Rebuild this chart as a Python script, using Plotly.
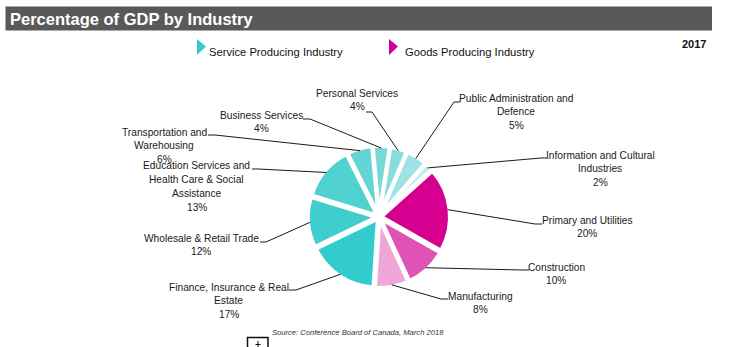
import math
import plotly.graph_objects as go

W, H = 729, 347

# ---- data -------------------------------------------------------------
industries = [
    "Personal Services",
    "Public Administration and Defence",
    "Information and Cultural Industries",
    "Primary and Utilities",
    "Construction",
    "Manufacturing",
    "Finance, Insurance & Real Estate",
    "Wholesale & Retail Trade",
    "Education Services and Health Care & Social Assistance",
    "Transportation and Warehousing",
    "Business Services",
]
shares = [4, 5, 2, 20, 10, 8, 17, 12, 13, 6, 4]
sectors = ["Service", "Service", "Service", "Goods", "Goods", "Goods",
           "Service", "Service", "Service", "Service", "Service"]
label_lines = [
    ["Personal Services"],
    ["Public Administration and", "Defence"],
    ["Information and Cultural", "Industries"],
    ["Primary and Utilities"],
    ["Construction"],
    ["Manufacturing"],
    ["Finance, Insurance & Real", "Estate"],
    ["Wholesale & Retail Trade"],
    ["Education Services and", "Health Care & Social", "Assistance"],
    ["Transportation and", "Warehousing"],
    ["Business Services"],
]
slice_colors = ["#88DCDC", "#9FE2E3", "#C3ECEE", "#D5008F", "#DF52B6", "#EFA7DA",
                "#33CCCC", "#40CDCE", "#52D1D1", "#64D4D4", "#77D8D8"]
legend_items = ["Service Producing Industry", "Goods Producing Industry"]
legend_colors = ["#33CCCC", "#CC0099"]
title_text = "Percentage of GDP by Industry"
year_text = "2017"
source_text = "Source: Conference Board of Canada, March 2018"

# ---- layout helpers (pixel -> paper) -----------------------------------
def px(x):
    return x / W


def py(y):
    return 1 - y / H


SANS = "Liberation Sans, Arial, sans-serif"

# pie placement
cx, cy, half = 379, 217, 71
rotation = 9
pull = 0.03

fig = go.Figure()
fig.add_trace(go.Pie(
    labels=industries,
    values=shares,
    sort=False,
    direction="clockwise",
    rotation=rotation,
    pull=[pull] * len(shares),
    marker=dict(colors=slice_colors, line=dict(color="white", width=4)),
    textinfo="none",
    hoverinfo="label+percent",
    showlegend=False,
    domain=dict(x=[px(cx - half), px(cx + half)], y=[py(cy + half), py(cy - half)]),
))

shapes = []
annotations = []

# title bar
shapes.append(dict(type="rect", xref="paper", yref="paper",
                   x0=px(5.5), x1=px(712), y0=py(30.5), y1=py(6.5),
                   fillcolor="#595959", line=dict(width=0), layer="below"))
annotations.append(dict(text=title_text, x=px(8), y=py(18.5), xref="paper", yref="paper",
                        xanchor="left", yanchor="middle", showarrow=False,
                        font=dict(family=SANS, size=16.5, color="white", weight="bold")))
annotations.append(dict(text=year_text, x=px(708), y=py(44), xref="paper", yref="paper",
                        xanchor="right", yanchor="middle", showarrow=False,
                        font=dict(family=SANS, size=11, color="#111111", weight="bold")))

# legend: right-pointing triangles + text
legend_pos = [(197, 207), (389, 403)]
for name, col, (tx, lx) in zip(legend_items, legend_colors, legend_pos):
    path = "M {} {} L {} {} L {} {} Z".format(px(tx), py(39), px(tx + 9), py(46.5), px(tx), py(55))
    shapes.append(dict(type="path", xref="paper", yref="paper", path=path,
                       fillcolor=col, line=dict(width=0)))
    annotations.append(dict(text=name, x=px(lx), y=py(52), xref="paper", yref="paper",
                            xanchor="left", yanchor="middle", showarrow=False,
                            font=dict(family=SANS, size=11.2, color="#111111")))

# label placement: centre x, first-line y, leader tick (x_from, x_to, y)
label_place = [
    (357, 93, (366, 372, 112)),
    (516, 98, (460, 454, 102)),
    (600, 155, (547, 541, 158)),
    (587, 220, (542, 535, 224)),
    (556, 267, (529, 522, 270)),
    (480, 296, (448, 441, 299)),
    (229, 287, (289, 296, 290)),
    (201, 238, (260, 266, 242)),
    (197, 166, (252, 258, 169)),
    (164, 132, (208, 215, 135)),
    (261, 115, (303, 310, 119)),
]
line_step = 13.8
edge_r = 69

total = float(sum(shares))
start = rotation
for name_lines, val, (lx, ly, (t0, t1, ty)) in zip(label_lines, shares, label_place):
    span = val / total * 360.0
    mid = math.radians(start + span / 2)
    start += span
    ex = cx + edge_r * math.sin(mid)
    ey = cy - edge_r * math.cos(mid)
    lines = name_lines + ["{}%".format(val)]
    for i, t in enumerate(lines):
        annotations.append(dict(text=t, x=px(lx), y=py(ly + i * line_step),
                                xref="paper", yref="paper", xanchor="center",
                                yanchor="middle", showarrow=False,
                                font=dict(family=SANS, size=10.2, color="#1a1a1a")))
    path = "M {} {} L {} {} L {} {}".format(px(t0), py(ty), px(t1), py(ty), px(ex), py(ey))
    shapes.append(dict(type="path", xref="paper", yref="paper", path=path,
                       line=dict(color="#1a1a1a", width=1)))

# source note
annotations.append(dict(text="<i>" + source_text + "</i>", x=px(358), y=py(332),
                        xref="paper", yref="paper", xanchor="center", yanchor="middle",
                        showarrow=False, font=dict(family=SANS, size=7.6, color="#333333")))

# small boxed handle at the bottom edge
shapes.append(dict(type="rect", xref="paper", yref="paper",
                   x0=px(247.5), x1=px(268), y0=py(349), y1=py(337.5),
                   line=dict(color="#111111", width=1.5), fillcolor="white"))
shapes.append(dict(type="line", xref="paper", yref="paper",
                   x0=px(258), x1=px(258), y0=py(341), y1=py(347),
                   line=dict(color="#111111", width=1)))
shapes.append(dict(type="line", xref="paper", yref="paper",
                   x0=px(255.5), x1=px(260.5), y0=py(344.5), y1=py(344.5),
                   line=dict(color="#111111", width=1)))

fig.update_layout(
    width=W, height=H,
    margin=dict(l=0, r=0, t=0, b=0),
    paper_bgcolor="white", plot_bgcolor="white",
    shapes=shapes, annotations=annotations,
    showlegend=False,
)

fig.write_html("out.html")
